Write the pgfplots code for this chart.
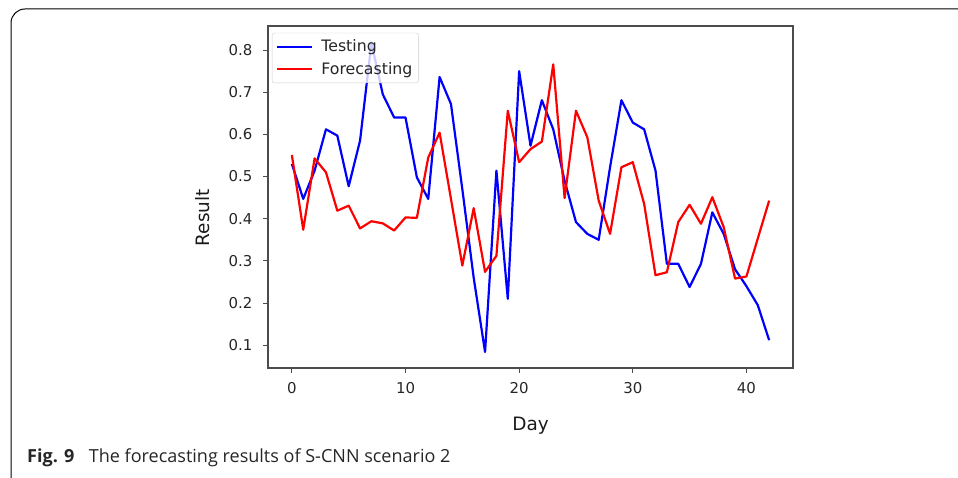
\documentclass[border=0pt]{standalone}
\usepackage{fontspec}
\setmainfont{DejaVu Sans}
\newfontfamily\capfont{Open Sans}
\usepackage{pgfplots}
\pgfplotsset{compat=1.18}

\begin{document}
\begin{tikzpicture}[x=1bp,y=1bp]
\useasboundingbox (0,0) rectangle (958,478);

% figure frame (top and left edges, rounded corner)
\draw[line width=1bp] (960,469) -- (25,469) arc[start angle=90,end angle=180,radius=14] -- (11,-5);

\begin{axis}[
    at={(268bp,110bp)}, anchor=south west,
    scale only axis,
    width=525bp, height=342bp,
    xmin=-2.1, xmax=44.1,
    ymin=0.046, ymax=0.857,
    xtick={0,10,20,30,40},
    ytick={0.1,0.2,0.3,0.4,0.5,0.6,0.7,0.8},
    /pgf/number format/assume math mode=true,
    tick label style={font=\fontsize{15}{17}\selectfont, text=black!85},
    xticklabel style={yshift=-6bp},
    yticklabel style={xshift=-7bp, /pgf/number format/.cd, fixed, precision=1, fixed zerofill},
    tick align=outside,
    xtick pos=left, ytick pos=left,
    major tick length=5bp,
    axis line style={draw=black!70, line width=1.1bp},
    every tick/.style={draw=black!70, line width=0.9bp},
    xlabel={Day}, ylabel={Result},
    label style={font=\fontsize{18.5}{20}\selectfont, text=black!90},
    xlabel style={at={(axis description cs:0.5,-0.168)}, anchor=center},
    ylabel style={at={(axis description cs:-0.124,0.439)}, anchor=center, rotate=0},
    legend style={at={(axis description cs:0.0076,0.98)}, anchor=north west,
        draw=black!20, rounded corners=2bp, fill=white, fill opacity=0.8, text opacity=1,
        font=\fontsize{15.8}{17}\selectfont, text=black!85,
        inner xsep=4bp, inner ysep=5bp, row sep=5bp},
    legend cell align=left,
    legend image code/.code={\draw[#1] (0bp,0bp) -- (35bp,0bp); \path (41bp,0bp);},
    every axis plot/.append style={line width=2.2bp, line join=round},
]
\addplot[blue, mark=none] coordinates {
(0,0.530) (1,0.447) (2,0.514) (3,0.612) (4,0.597) (5,0.477) (6,0.585)
(7,0.817) (8,0.695) (9,0.640) (10,0.640) (11,0.498) (12,0.447) (13,0.736)
(14,0.672) (15,0.470) (16,0.260) (17,0.084) (18,0.514) (19,0.210) (20,0.750)
(21,0.573) (22,0.681) (23,0.612) (24,0.490) (25,0.392) (26,0.364) (27,0.350)
(28,0.522) (29,0.681) (30,0.628) (31,0.612) (32,0.514) (33,0.293) (34,0.293)
(35,0.238) (36,0.293) (37,0.415) (38,0.364) (39,0.280) (40,0.240) (41,0.195)
(42,0.112)
};
\addplot[red, mark=none] coordinates {
(0,0.551) (1,0.374) (2,0.543) (3,0.510) (4,0.419) (5,0.431) (6,0.377)
(7,0.394) (8,0.389) (9,0.372) (10,0.403) (11,0.402) (12,0.545) (13,0.604)
(14,0.447) (15,0.289) (16,0.425) (17,0.274) (18,0.312) (19,0.656) (20,0.534)
(21,0.565) (22,0.583) (23,0.766) (24,0.449) (25,0.656) (26,0.593) (27,0.443)
(28,0.364) (29,0.522) (30,0.534) (31,0.435) (32,0.266) (33,0.273) (34,0.392)
(35,0.433) (36,0.388) (37,0.451) (38,0.380) (39,0.258) (40,0.263) (41,0.353)
(42,0.443)
};
\legend{Testing, Forecasting}
\end{axis}

\node[anchor=base west, inner sep=0pt, text=black!85] at (27,15)
  {\capfont\fontsize{18.1}{20}\selectfont\textbf{Fig. 9}\hspace{0.8em}The forecasting results of S-CNN scenario 2};
\end{tikzpicture}
\end{document}
